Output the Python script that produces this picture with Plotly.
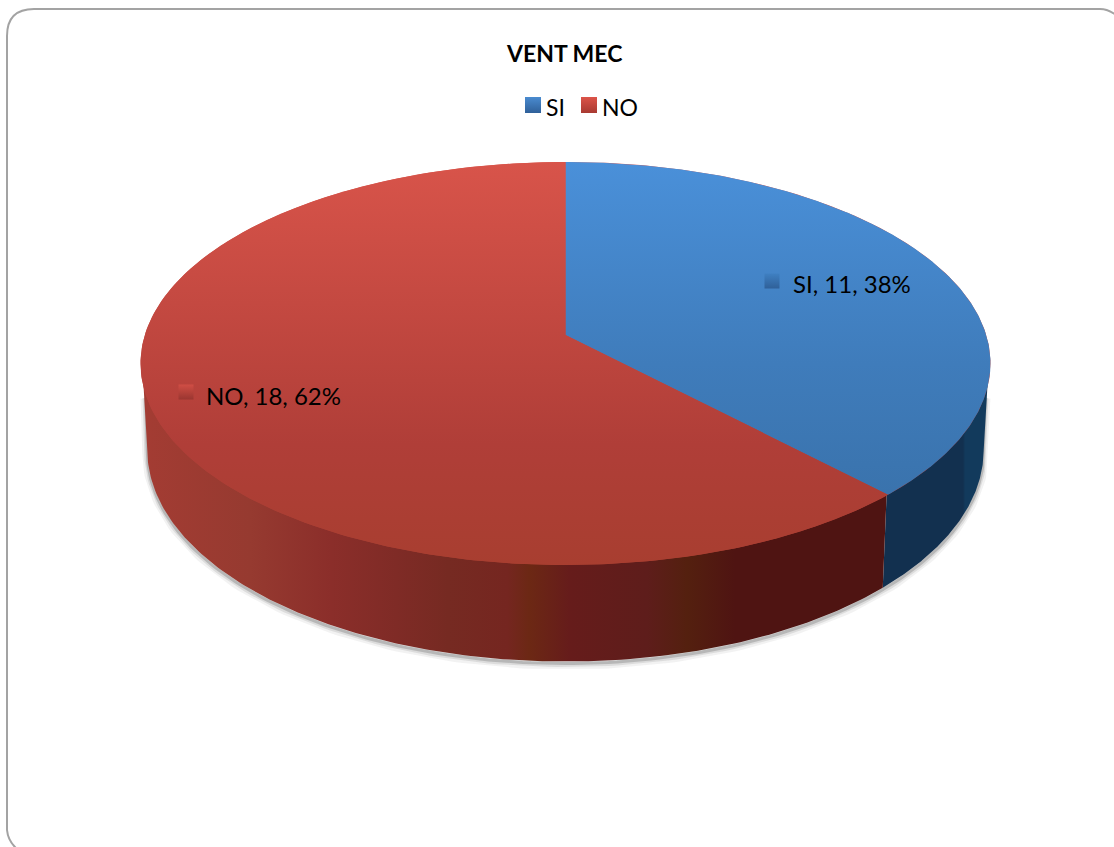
import math
import plotly.graph_objects as go

# ---- data ----
categories = ["SI", "NO"]
values = [11, 18]
title_text = "VENT MEC"

# ---- styles ----
top_grad = {
    "SI": [[0, "#4a90d9"], [0.5, "#3f7cbb"], [1, "#376ea5"]],
    "NO": [[0, "#d8544a"], [0.7, "#b03e38"], [1, "#a83e30"]],
}
side_grad_no = [
    [0.00, "#a33c33"], [0.14, "#963a30"], [0.25, "#8b2e2a"], [0.34, "#7f2b26"],
    [0.41, "#762a22"], [0.49, "#752620"], [0.52, "#6c2814"], [0.575, "#661c1b"],
    [0.68, "#5e1d1b"], [0.735, "#54200f"], [0.80, "#4f1412"], [1.00, "#4f1412"],
]
side_grad_si = [[0, "#12304f"], [0.75, "#12304f"], [0.77, "#123a5c"], [1, "#123a5c"]]
key_grad = {"SI": ("#4a8bd0", "#2f6099"), "NO": ("#dc5449", "#a83a32")}
label_key_grad = {"SI": ("#3f80c2", "#2f6099"), "NO": ("#d04e45", "#9a3630")}
label_pos = {"SI": (791, 283), "NO": (204, 395)}
key_pos = {"SI": (772, 281), "NO": (186, 392)}
legend_key_x = {"SI": 533, "NO": 589}
legend_text_x = {"SI": 544, "NO": 600}
LEGEND_Y = 107
FONT = "Lato"
W, H = 1114, 847

# ---- pie projection (perspective view of a disc) ----
CX, APEX_Y, AX, BY, K = 565.5, 335.0, 420.7, 197.5, 0.1413
LOW_Y, LOW_AX, LOW_BY = 420.0, 414.0, 207.4


def project(theta, y0=APEX_Y, ax=AX, by=BY):
    u, v = math.sin(theta), math.cos(theta)
    d = 1 + K * v
    return CX + ax * u / d, y0 - by * v / d


def arc(a0, a1, n=160, **kw):
    pts = [project(a0 + (a1 - a0) * i / n, **kw) for i in range(n + 1)]
    return [p[0] for p in pts], [p[1] for p in pts]


total = sum(values)
fractions = [v / total for v in values]
b1 = 2 * math.pi * fractions[0]
low = dict(y0=LOW_Y, ax=LOW_AX, by=LOW_BY)
# where the disc is widest on screen: the walls run between these points
EDGE_R = math.acos(-K)
EDGE_L = 2 * math.pi - EDGE_R

fig = go.Figure()

# soft shadow around the wall and the lower edge; it fades in below the rim
sx, sy = arc(EDGE_R, EDGE_L, **low)
tr = project(EDGE_R, y0=APEX_Y + 32, ax=AX - 5)
tl = project(EDGE_L, y0=APEX_Y + 32, ax=AX - 5)
sx = [tr[0]] + sx + [tl[0]]
sy = [tr[1]] + sy + [tl[1]]
for w, a, dy in [(10, 0.08, 3), (6, 0.14, 2.5), (3, 0.28, 2)]:
    fig.add_trace(go.Scatter(x=sx, y=[y + dy for y in sy], mode="lines",
                             line=dict(color=f"rgba(90,90,90,{a})", width=w),
                             showlegend=False, hoverinfo="skip"))


def side(a0, a1, grad, start, stop):
    # upper edge runs a little under the top face so no seam shows
    tx, ty = arc(a0, a1, y0=APEX_Y - 3, ax=AX - 1.5)
    lx, ly = arc(a1, a0, **low)
    fig.add_trace(go.Scatter(
        x=tx + lx, y=ty + ly, mode="lines", line=dict(width=0), fill="toself",
        fillgradient=dict(type="horizontal", colorscale=grad, start=start, stop=stop),
        showlegend=False, hoverinfo="skip"))


side(EDGE_R, b1, side_grad_si, 882, 990)
side(b1, EDGE_L, side_grad_no, 147, 882)

# underlay against the hairline between the two top wedges
ux, uy = arc(0, 2 * math.pi, n=400)
fig.add_trace(go.Scatter(
    x=ux, y=uy, mode="lines", line=dict(width=0), fill="toself",
    fillgradient=dict(type="vertical", colorscale=top_grad["NO"], start=162, stop=565),
    showlegend=False, hoverinfo="skip"))

# top faces
starts = [0, b1]
ends = [b1, 2 * math.pi]
for cat, a0, a1 in zip(categories, starts, ends):
    ax_, ay_ = arc(a0, a1, n=300)
    fig.add_trace(go.Scatter(
        x=[CX] + ax_ + [CX], y=[APEX_Y] + ay_ + [APEX_Y], mode="lines",
        line=dict(width=0), fill="toself", name=cat,
        fillgradient=dict(type="vertical", colorscale=top_grad[cat], start=162, stop=565),
        showlegend=False, hoverinfo="skip"))

annotations = []


def text_at(x, y, text, size):
    annotations.append(dict(x=x, y=y, xref="x", yref="y", xanchor="left", yanchor="middle",
                            text=text, showarrow=False,
                            font=dict(family=FONT, size=size, color="#000000")))


# legend row and keys inside data labels
for cat, val, frac in zip(categories, values, fractions):
    c0, c1 = key_grad[cat]
    fig.add_trace(go.Scatter(
        x=[legend_key_x[cat]], y=[LEGEND_Y - 2], mode="markers", showlegend=False, hoverinfo="skip",
        marker=dict(symbol="square", size=16, color=c0,
                    gradient=dict(type="vertical", color=c1), line=dict(width=0))))
    text_at(legend_text_x[cat], LEGEND_Y, cat, 23)
    c0, c1 = label_key_grad[cat]
    kx, ky = key_pos[cat]
    fig.add_trace(go.Scatter(
        x=[kx], y=[ky], mode="markers", showlegend=False, hoverinfo="skip",
        marker=dict(symbol="square", size=15, color=c0,
                    gradient=dict(type="vertical", color=c1), line=dict(width=0))))
    lx, ly = label_pos[cat]
    text_at(lx, ly, f"{cat}, {val}, {round(frac * 100)}%", 24)

annotations.append(dict(x=564, y=53, xref="x", yref="y", xanchor="center", yanchor="middle",
                        text=f"<b>{title_text}</b>", showarrow=False,
                        font=dict(family=FONT, size=23, color="#000000")))

fig.update_layout(
    width=W, height=H, margin=dict(l=0, r=0, t=0, b=0),
    paper_bgcolor="white", plot_bgcolor="white",
    xaxis=dict(range=[0, W], visible=False, fixedrange=True),
    yaxis=dict(range=[H, 0], visible=False, fixedrange=True),
    annotations=annotations,
    shapes=[dict(type="path", xref="x", yref="y",
                 path="M 7,830 L 7,36 Q 7,9 34,9 L 1100,9 Q 1108,9 1116,15 "
                      "M 7,830 Q 8,841 17,849",
                 line=dict(color="#a3a3a3", width=2), layer="below")],
    showlegend=False,
)
# the page's default body margin would push the plot 8px away from the corner
fig.write_html("out.html", config={"displayModeBar": False},
               post_script='document.body.style.margin="0";document.body.style.overflow="hidden";')
